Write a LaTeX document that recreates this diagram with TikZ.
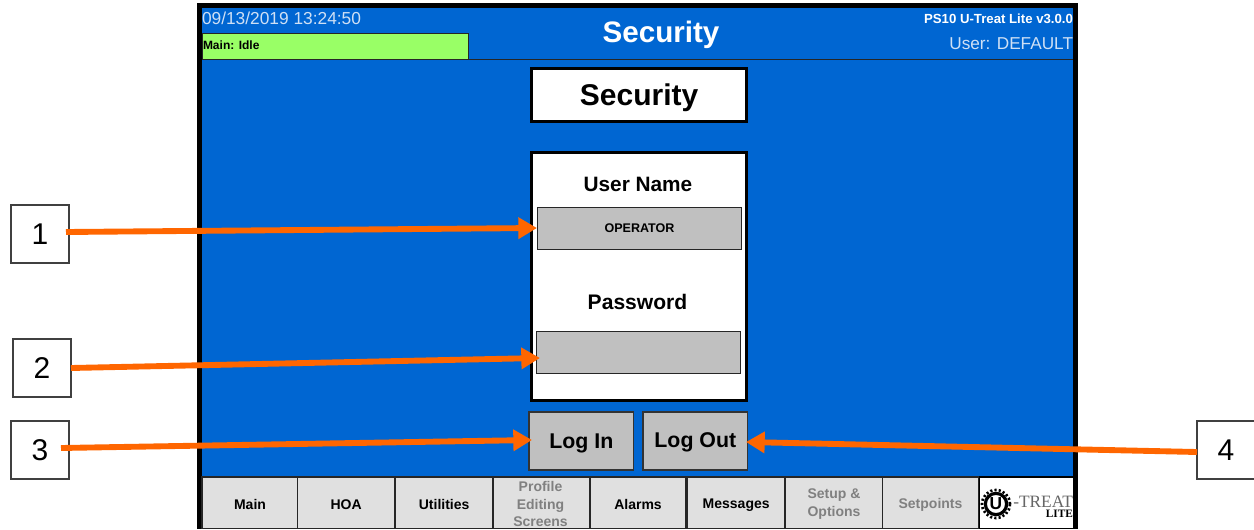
\documentclass[tikz,border=0pt]{standalone}
\usepackage{fontspec}
\setmainfont{Liberation Sans}
\newfontfamily\serifl{Liberation Serif}
\usetikzlibrary{arrows.meta}
\definecolor{scrblue}{HTML}{0066D2}
\definecolor{fieldgray}{HTML}{C0C0C0}
\definecolor{navgray}{HTML}{E0E0E0}
\definecolor{idlegreen}{HTML}{99FF66}
\definecolor{arrowor}{HTML}{FF6600}
\definecolor{dimtext}{HTML}{808080}
\definecolor{paletext}{HTML}{CFE0F5}
\newcommand{\fs}[1]{\fontsize{#1}{#1}\selectfont}
\newcommand{\lowr}[2][1.5pt]{\raisebox{0pt}[\dimexpr\height+#1+#1\relax][\depth]{#2}}
\tikzset{
 x=0.75pt,y=-0.75pt,
 pxbox/.style={rectangle,inner sep=0pt,outer sep=0pt,anchor=north west},
 numbox/.style={pxbox,draw=black!75,fill=white,line width=0.9pt,minimum width=43.5pt,minimum height=43.5pt,font=\fs{22.5},text=black,anchor=center},
 whitepanel/.style={pxbox,draw=black,fill=white,line width=2.2pt},
 fieldbox/.style={pxbox,draw=black!85,fill=fieldgray,line width=0.7pt},
 btn/.style={pxbox,draw=black!80,fill=fieldgray,line width=0.9pt,minimum width=78.5pt,minimum height=43.5pt,font=\bfseries\fs{16},text=black},
 navbtn/.style={pxbox,draw=black!85,fill=navgray,line width=0.8pt,minimum height=38.5pt,font=\bfseries\fs{10.5},text=black},
 navdim/.style={navbtn,text=dimtext},
 navlines/.style={inner sep=0pt,outer sep=0pt,align=center,text=dimtext,font=\bfseries\fontsize{10.5}{13}\selectfont},
 callout/.style={draw=arrowor,line width=4.4pt,-{Triangle[length=14pt,width=15.5pt]},shorten >=0pt},
 plain/.style={inner sep=0pt,outer sep=0pt}
}
\begin{document}
\begin{tikzpicture}
\useasboundingbox (0,0) rectangle (1254,529);
% screen
\node[pxbox,fill=black,minimum width=660.75pt,minimum height=394.5pt] (frame) at (197,3) {};
\node[pxbox,fill=scrblue,minimum width=653.25pt,minimum height=351pt] (screen) at (202,8) {};
\draw[black!85,line width=0.8pt] (202,59.5) -- (1073,59.5);
\node[pxbox,draw=black!85,fill=idlegreen,line width=0.7pt,minimum width=199.5pt,minimum height=19.5pt] (status) at (202,33.5) {};
\node[plain,anchor=west,font=\bfseries\fs{9},text=black] (statust) at (203,45) {Main: Idle};
\node[plain,anchor=west,font=\fs{13},text=paletext] (date) at (202,18.5) {09/13/2019 13:24:50};
\node[plain,font=\bfseries\fs{22.2},text=white] (title) at (661,32) {\lowr[2.2pt]{Security}};
\node[plain,anchor=east,font=\bfseries\fs{9.9},text=white] (ver) at (1073,19) {PS10 U-Treat Lite v3.0.0};
\node[plain,anchor=east,font=\fs{12.9},text=paletext] (user) at (1073,44) {User: DEFAULT};
% panels
\node[whitepanel,minimum width=161.5pt,minimum height=40pt,font=\bfseries\fs{22.5},text=black] (sec) at (531.5,68.5) {\lowr[2.2pt]{Security}};
\node[whitepanel,minimum width=161.5pt,minimum height=186pt] (panel) at (531.5,152.5) {};
\node[plain,font=\bfseries\fs{15.6},text=black] (un) at (638,184) {User Name};
\node[fieldbox,minimum width=153pt,minimum height=31.5pt,font=\bfseries\fs{9.4},text=black] (f1) at (537.5,207.5) {OPERATOR};
\node[plain,font=\bfseries\fs{15.8},text=black] (pw) at (637.5,302) {Password};
\node[fieldbox,minimum width=153pt,minimum height=31.5pt] (f2) at (536.5,331.5) {};
\node[btn] (login) at (529,412) {\lowr{Log In}};
\node[btn] (logout) at (643,412) {\lowr[0.8pt]{Log Out}};
% nav
\node[navbtn,minimum width=72pt] (n1) at (202,477) {\lowr{Main}};
\node[navbtn,minimum width=73pt] (n2) at (297.5,477) {\lowr{HOA}};
\node[navbtn,minimum width=73pt] (n3) at (395.5,477) {\lowr{Utilities}};
\node[navdim,minimum width=72pt] (n4) at (493.5,477) {};
\node[navlines] (n4t) at (540.5,504) {Profile\\Editing\\Screens};
\node[navbtn,minimum width=72pt] (n5) at (590,477) {\lowr{Alarms}};
\node[navbtn,minimum width=73pt] (n6) at (687.5,477) {\lowr{Messages}};
\node[navdim,minimum width=73pt] (n7) at (785.5,477) {};
\node[navlines,font=\bfseries\fontsize{10.5}{13.5}\selectfont] (n7t) at (834,504) {Setup \&\\Options};
\node[navdim,minimum width=72pt] (n8) at (882.5,477) {\lowr{Setpoints}};
% logo
\node[pxbox,fill=white,minimum width=70.5pt,minimum height=38pt] (logobg) at (979.5,477.5) {};
\node[circle,draw=black,dash pattern=on 1.6pt off 1.6pt,line width=2pt,minimum size=21pt,inner sep=0pt] (lring) at (996,504) {};
\node[circle,draw=black,line width=2.4pt,fill=white,minimum size=16pt,inner sep=0pt,font=\bfseries\fs{13}] (lu) at (996,504) {U};
\node[plain,anchor=east,font=\serifl\fs{13},text=black!60,text height=8pt,text depth=0pt] (ltreat) at (1073,502) {-TREAT};
\node[plain,anchor=east,font=\serifl\bfseries\fs{8.5},text=black,text height=5pt,text depth=0pt] (llite) at (1073,514) {LITE};
% redraw the screen edge over the logo
\draw[black,line width=3.75pt] (1075.5,470) -- (1075.5,529);
% numbers
\node[numbox] (b1) at (40,234) {1};
\node[numbox] (b2) at (42,368) {2};
\node[numbox] (b3) at (40,450) {3};
\node[numbox] (b4) at (1226,450) {4};
\coordinate (a1s) at (66,232);
\coordinate (a1e) at (537,228);
\coordinate (a2s) at (71,368);
\coordinate (a2e) at (540,358);
\coordinate (a3s) at (61,448);
\coordinate (a3e) at (532,440);
\coordinate (a4s) at (1197,452);
\coordinate (a4e) at (746,442);
\draw[callout] (a1s) -- (a1e);
\draw[callout] (a2s) -- (a2e);
\draw[callout] (a3s) -- (a3e);
\draw[callout] (a4s) -- (a4e);
\end{tikzpicture}
\end{document}
